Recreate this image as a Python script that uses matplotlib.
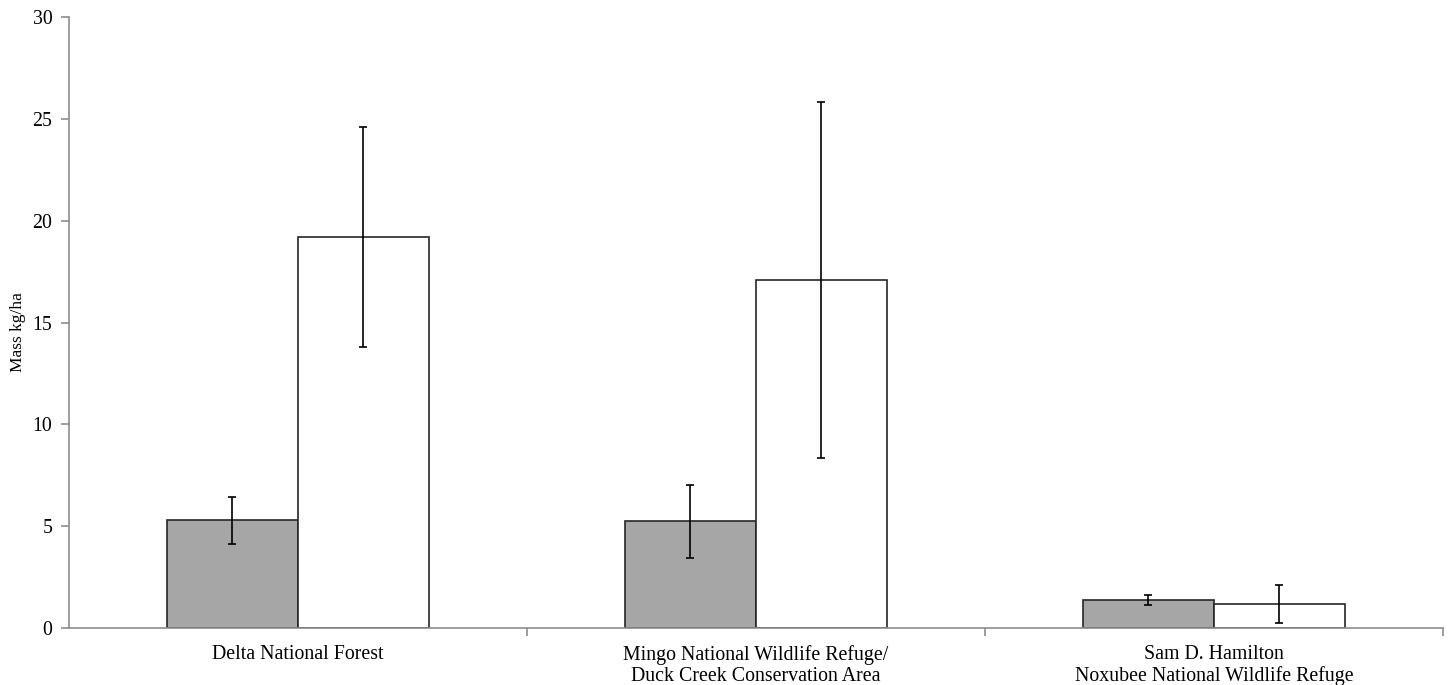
import numpy as np
import matplotlib.pyplot as plt

plt.rcParams['font.family'] = ['Liberation Serif', 'DejaVu Serif']

sites = ['Delta National Forest',
         'Mingo National Wildlife Refuge/\nDuck Creek Conservation Area',
         'Sam D. Hamilton\nNoxubee National Wildlife Refuge']
gray_vals = [5.29, 5.24, 1.36]
gray_err = [1.15, 1.80, 0.25]
white_vals = [19.2, 17.08, 1.19]
white_err = [5.38, 8.74, 0.93]

fig = plt.figure(figsize=(14.52, 6.85), dpi=100)
ax = fig.add_axes([0.0475, 0.0832, 0.9463, 0.8918])

x = np.arange(len(sites))
w = 0.286
ek = dict(ecolor='black', elinewidth=1.2, capsize=3, capthick=1.2)
ax.bar(x - w / 2, gray_vals, w, color='#a6a6a6', edgecolor='#262626', linewidth=1.2,
       yerr=gray_err, error_kw=ek)
ax.bar(x + w / 2, white_vals, w, color='white', edgecolor='#262626', linewidth=1.2,
       yerr=white_err, error_kw=ek)

ax.set_xlim(-0.5, 2.5)
ax.set_ylim(0, 30)
ax.set_yticks([0, 5, 10, 15, 20, 25, 30])
ax.set_xticks(x)
ax.set_xticklabels(sites, fontsize=14.3, linespacing=1.15)
ax.set_xticks([0.5, 1.5, 2.5], minor=True)
ax.tick_params(axis='x', which='major', length=0, pad=12)
ax.tick_params(axis='x', which='minor', length=6, color='#8c8c8c', width=1.2)
ax.tick_params(axis='y', length=6, color='#8c8c8c', width=1.2, labelsize=14.3, pad=6)
ax.set_ylabel('Mass kg/ha', fontsize=12.5)
ax.yaxis.set_label_coords(-0.031, 0.485)

for s in ['top', 'right']:
    ax.spines[s].set_visible(False)
for s in ['left', 'bottom']:
    ax.spines[s].set_color('#8c8c8c')
    ax.spines[s].set_linewidth(1.2)

fig.savefig('out.png', dpi=100)
